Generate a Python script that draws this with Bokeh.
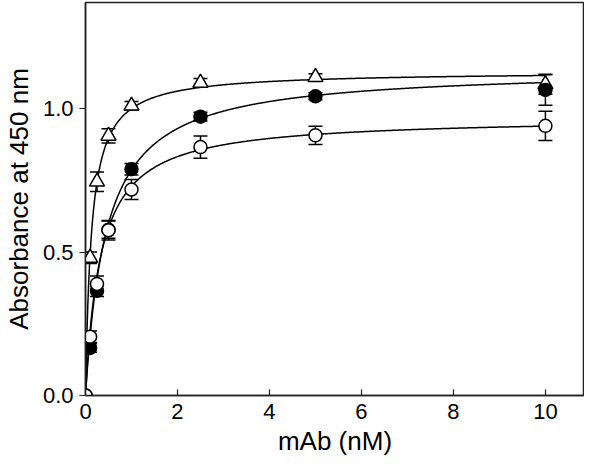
import numpy as np
from bokeh.plotting import figure
from bokeh.models import Range1d, FixedTicker, NumeralTickFormatter, Whisker, TeeHead, ColumnDataSource
from bokeh.embed import file_html
from bokeh.resources import INLINE

# ---- data ----
conc = [0, 0.1, 0.25, 0.5, 1, 2.5, 5, 10]

tri_y   = [0.0, 0.48, 0.745, 0.905, 1.01, 1.09, 1.11, 1.085]
tri_err = [0.0, 0.02, 0.034, 0.025, 0.015, 0.015, 0.012, 0.035]

fil_y   = [0.0, 0.166, 0.365, 0.578, 0.789, 0.972, 1.043, 1.065]
fil_err = [0.0, 0.015, 0.02, 0.03, 0.02, 0.015, 0.012, 0.053]

opn_y   = [0.0, 0.205, 0.389, 0.576, 0.718, 0.866, 0.907, 0.94]
opn_err = [0.0, 0.02, 0.028, 0.034, 0.035, 0.039, 0.032, 0.051]

# one-site binding fit parameters (Bmax, Kd) for each series
fit_tri = (1.13, 0.13)
fit_fil = (1.14, 0.45)
fit_opn = (0.97, 0.33)

x_ticks = [0, 2, 4, 6, 8, 10]
y_ticks = [0.0, 0.5, 1.0]

p = figure(width=584, height=458, output_backend="svg", toolbar_location=None,
           x_range=Range1d(0, 10.85), y_range=Range1d(0, 1.37),
           min_border_left=70, min_border_right=0, min_border_top=2, min_border_bottom=60)
p.grid.visible = False
p.background_fill_color = "white"
p.border_fill_color = "white"
p.outline_line_color = "#222222"
p.outline_line_width = 1.5

# axes
for ax in (p.xaxis[0], p.yaxis[0]):
    ax.axis_line_color = "#222222"
    ax.axis_line_width = 1.5
    ax.major_tick_line_color = "#222222"
    ax.major_tick_line_width = 1.2
    ax.minor_tick_line_color = None
    ax.major_label_text_font = "Liberation Sans"
    ax.major_label_text_font_size = "22px"
    ax.major_label_text_color = "black"
    ax.axis_label_text_font = "Liberation Sans"
    ax.axis_label_text_font_size = "26px"
    ax.axis_label_text_font_style = "normal"
    ax.axis_label_text_color = "black"

p.xaxis.ticker = FixedTicker(ticks=x_ticks)
p.xaxis.major_tick_in = 6
p.xaxis.major_tick_out = 0
p.xaxis.major_label_standoff = 8
p.xaxis.axis_label = "mAb (nM)"
p.xaxis.axis_label_standoff = 4

p.yaxis.ticker = FixedTicker(ticks=y_ticks)
p.yaxis.formatter = NumeralTickFormatter(format="0.0")
p.yaxis.major_tick_in = 0
p.yaxis.major_tick_out = 6
p.yaxis.major_label_standoff = 6
p.yaxis.axis_label = "Absorbance at 450 nm"
p.yaxis.axis_label_standoff = 6

# fitted curves
xs = np.linspace(0, 10, 600)
for bmax, kd in (fit_tri, fit_fil, fit_opn):
    p.line(xs, bmax * xs / (kd + xs), line_color="black", line_width=1.5)

# error bars
for ys, es in ((tri_y, tri_err), (fil_y, fil_err), (opn_y, opn_err)):
    xb = [c for c, e in zip(conc, es) if e > 0]
    lo = [y - e for y, e in zip(ys, es) if e > 0]
    hi = [y + e for y, e in zip(ys, es) if e > 0]
    src = ColumnDataSource(dict(x=xb, lower=lo, upper=hi))
    w = Whisker(base="x", lower="lower", upper="upper", source=src,
                line_color="black", line_width=1.5,
                upper_head=TeeHead(size=14, line_color="black", line_width=1.5),
                lower_head=TeeHead(size=14, line_color="black", line_width=1.5))
    p.add_layout(w)

# markers
p.scatter(conc, tri_y, marker="triangle", size=15, fill_color="white",
          line_color="black", line_width=1.5)
p.scatter(conc, fil_y, marker="circle", size=13, fill_color="black",
          line_color="black", line_width=1.5)
p.scatter(conc, opn_y, marker="circle", size=13, fill_color="white",
          line_color="black", line_width=1.5)

open("out.html", "w").write(file_html(p, INLINE))
